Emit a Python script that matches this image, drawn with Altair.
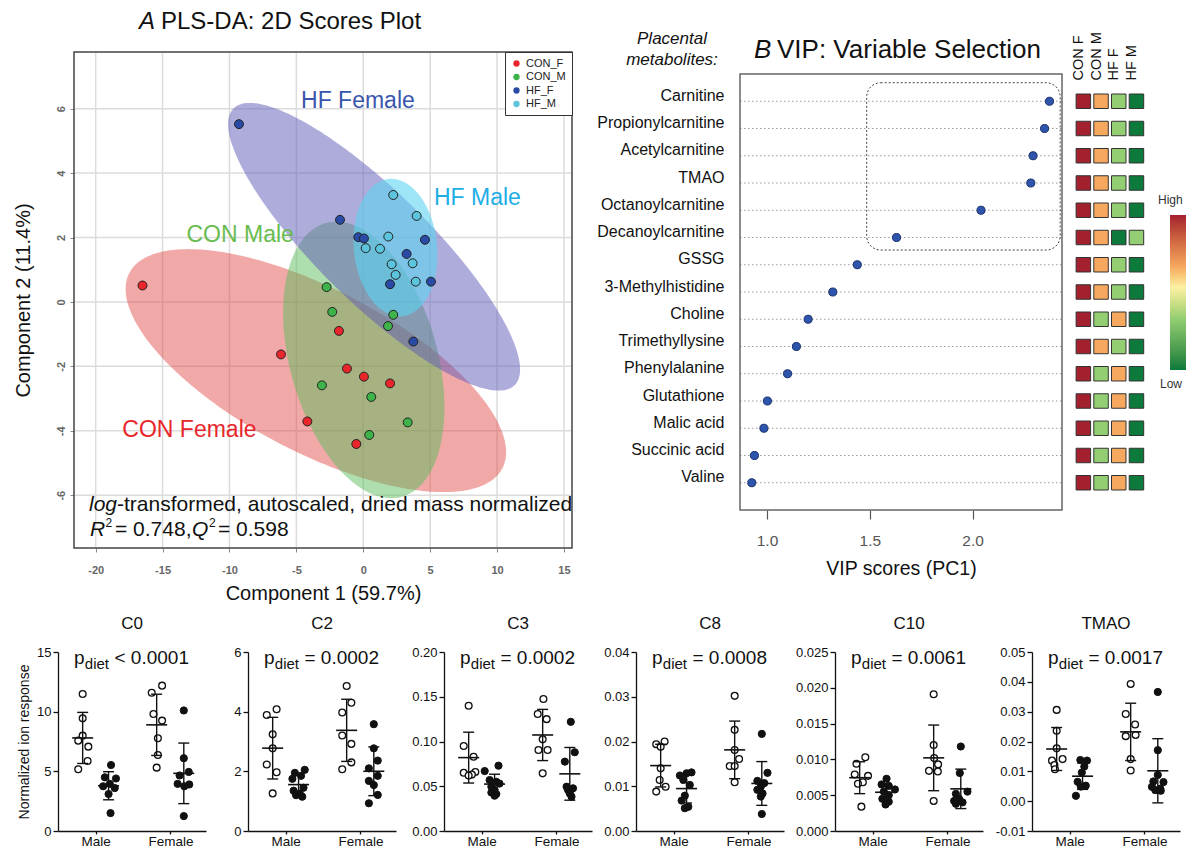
import altair as alt
import numpy as np
import pandas as pd

W, H = 1187, 853
FONT = "Liberation Sans"

# ============================ DATA ============================
# ---- Panel A: PLS-DA scores (Component 1 / Component 2) ----
group_names = ["CON_F", "CON_M", "HF_F", "HF_M"]
con_f_c1 = [-16.5, -1.82, -6.15, -1.22, 0.05, 2.0, -4.18, -0.52]
con_f_c2 = [0.51, -0.9, -1.63, -2.07, -2.32, -2.53, -3.71, -4.41]
con_m_c1 = [-2.74, -2.32, 2.24, 1.85, -3.09, 0.6, 3.32, 0.45]
con_m_c2 = [0.46, -0.31, -0.4, -0.75, -2.59, -2.95, -3.74, -4.13]
hf_f_c1 = [-9.29, -1.74, -0.37, 0.05, 4.61, 3.24, 2.0, 5.06, 3.74]
hf_f_c2 = [5.52, 2.55, 2.01, 1.97, 1.93, 1.49, 0.55, 0.63, -1.23]
hf_m_c1 = [2.24, 3.99, 1.87, 0.18, 1.25, 2.12, 3.69, 2.42, 3.92]
hf_m_c2 = [3.32, 2.67, 2.03, 1.67, 1.65, 1.17, 1.2, 0.84, 0.63]
a_xticks = [-20, -15, -10, -5, 0, 5, 10, 15]
a_yticks = [-6, -4, -2, 0, 2, 4, 6]
group_label_text = ["CON Female", "CON Male", "HF Female", "HF Male"]

# ---- Panel B: VIP scores + group heat map ----
metabolites = ["Carnitine", "Propionylcarnitine", "Acetylcarnitine", "TMAO",
               "Octanoylcarnitine", "Decanoylcarnitine", "GSSG", "3-Methylhistidine",
               "Choline", "Trimethyllysine", "Phenylalanine", "Glutathione",
               "Malic acid", "Succinic acid", "Valine"]
vip_scores = [2.374, 2.35, 2.294, 2.283, 2.041, 1.63, 1.439, 1.32,
              1.2, 1.143, 1.1, 1.002, 0.985, 0.939, 0.926]
vip_ticks = [1.0, 1.5, 2.0]
heat_columns = ["CON F", "CON M", "HF F", "HF M"]
heat_con_f = [4, 4, 4, 4, 4, 4, 4, 4, 4, 4, 4, 4, 4, 4, 4]
heat_con_m = [3, 3, 3, 3, 3, 3, 3, 3, 2, 3, 2, 2, 2, 2, 2]
heat_hf_f = [2, 2, 2, 2, 2, 1, 2, 2, 3, 2, 3, 3, 3, 3, 3]
heat_hf_m = [1, 1, 1, 1, 1, 2, 1, 1, 1, 1, 1, 1, 1, 1, 1]

# ---- Bottom panels: normalized ion response ----
panel_titles = ["C0", "C2", "C3", "C8", "C10", "TMAO"]
panel_p = ["< 0.0001", "= 0.0002", "= 0.0002", "= 0.0008", "= 0.0061", "= 0.0017"]
sex_labels = ["Male", "Female"]

c0_m_con = [11.48, 9.44, 7.99, 7.57, 7.07, 5.87, 5.17]
c0_m_hf = [5.53, 4.5, 4.4, 3.95, 3.75, 3.6, 3.1, 1.5]
c0_f_con = [12.18, 11.59, 9.8, 9.25, 7.77, 6.37, 5.31]
c0_f_hf = [10.1, 6.1, 4.95, 4.65, 3.95, 3.9, 3.75, 1.25]

c2_m_con = [4.08, 3.89, 3.24, 2.77, 2.23, 1.97, 1.26]
c2_m_hf = [2.05, 1.95, 1.85, 1.75, 1.45, 1.35, 1.25, 1.2, 1.15]
c2_f_con = [4.86, 4.3, 3.97, 3.2, 2.92, 2.3, 2.07]
c2_f_hf = [3.58, 2.77, 2.36, 2.1, 1.85, 1.68, 1.54, 1.21, 0.93]

c3_m_con = [0.140, 0.095, 0.083, 0.066, 0.065, 0.063, 0.062]
c3_m_hf = [0.073, 0.067, 0.057, 0.055, 0.053, 0.0495, 0.046, 0.043, 0.0413, 0.0395]
c3_f_con = [0.1475, 0.1307, 0.125, 0.1024, 0.0905, 0.0905, 0.0644]
c3_f_hf = [0.122, 0.088, 0.0775, 0.0495, 0.0477, 0.0458, 0.042, 0.0384]

c8_m_con = [0.020, 0.0194, 0.0188, 0.014, 0.0114, 0.0099, 0.0088]
c8_m_hf = [0.0131, 0.0129, 0.0124, 0.0114, 0.0103, 0.0079, 0.0068, 0.0054, 0.0051]
c8_f_con = [0.0302, 0.0226, 0.0181, 0.0161, 0.0145, 0.0145, 0.0109]
c8_f_hf = [0.0217, 0.013, 0.0112, 0.0107, 0.0099, 0.0092, 0.0084, 0.0077, 0.0038]

c10_m_con = [0.0103, 0.0094, 0.0079, 0.0077, 0.0068, 0.0066, 0.0034]
c10_m_hf = [0.0073, 0.0065, 0.0063, 0.0058, 0.0055, 0.005, 0.0045, 0.0041, 0.0037]
c10_f_con = [0.0191, 0.012, 0.0102, 0.0093, 0.0084, 0.0083, 0.0042]
c10_f_hf = [0.0118, 0.0081, 0.0055, 0.0052, 0.0045, 0.0042, 0.004, 0.0038]

tmao_m_con = [0.0306, 0.0236, 0.0177, 0.0141, 0.0136, 0.0121, 0.0107]
tmao_m_hf = [0.0138, 0.0136, 0.0116, 0.0096, 0.0065, 0.0052, 0.0049, 0.0018]
tmao_f_con = [0.0393, 0.0292, 0.0257, 0.0222, 0.0218, 0.0141, 0.0103]
tmao_f_hf = [0.0366, 0.0171, 0.0088, 0.0066, 0.0064, 0.0048, 0.0042, 0.0037, 0.0035]

# horizontal scatter (beeswarm) offsets, in x units
c0_dx = [[0, 0, 0, -0.18, 0.23, 0.2, -0.18],
         [0.1, -0.15, 0.3, 0.05, -0.22, 0.25, 0, 0.08],
         [0.22, -0.2, -0.13, 0.22, 0.05, 0.05, 0],
         [0, 0, 0.2, -0.17, -0.25, 0.22, 0.02, 0]]
c2_dx = [[0.16, -0.24, 0, 0, -0.24, 0.16, 0],
         [0.25, -0.15, 0.1, -0.25, 0.2, -0.2, 0.05, -0.1, 0.15],
         [0, 0.19, -0.18, -0.18, 0.19, 0.19, -0.18],
         [0, 0, 0.16, -0.2, 0.16, -0.2, 0, 0.16, -0.2]]
c3_dx = [[0, -0.2, 0.2, 0.27, -0.2, 0.13, 0],
         [0.16, -0.4, -0.2, 0.07, 0.2, -0.13, 0, -0.13, 0.07, 0],
         [0.03, -0.2, 0.16, 0, -0.17, 0.2, 0],
         [0.04, 0.2, -0.2, -0.13, 0.13, -0.07, 0, 0.07]]
c8_dx = [[0.16, -0.18, 0, 0, -0.04, 0.2, -0.18],
         [0.2, 0, -0.27, -0.13, 0.13, -0.07, -0.2, 0.07, -0.07],
         [0, 0, 0, 0.18, -0.2, 0, 0],
         [0, 0.23, -0.18, 0.1, -0.04, -0.18, 0.03, -0.04, 0]]
c10_dx = [[0.23, -0.13, -0.2, 0.34, 0.13, -0.07, 0.07],
          [0.04, -0.16, 0.13, 0.38, -0.07, 0.13, -0.13, 0.13, 0],
          [0, 0, 0.02, 0.18, -0.19, 0.17, 0],
          [0, -0.04, 0.27, -0.2, -0.07, -0.27, 0.07, -0.2]]
tmao_dx = [[0, 0, 0, 0.24, -0.19, -0.09, -0.07],
           [-0.09, 0.18, 0.07, -0.03, -0.2, 0.13, -0.07, -0.27],
           [0, -0.2, 0.18, 0.2, -0.2, 0, 0],
           [0, 0, 0, -0.18, 0.23, -0.24, 0.1, -0.1, 0.12]]

panel_values = [
    [c0_m_con, c0_m_hf, c0_f_con, c0_f_hf],
    [c2_m_con, c2_m_hf, c2_f_con, c2_f_hf],
    [c3_m_con, c3_m_hf, c3_f_con, c3_f_hf],
    [c8_m_con, c8_m_hf, c8_f_con, c8_f_hf],
    [c10_m_con, c10_m_hf, c10_f_con, c10_f_hf],
    [tmao_m_con, tmao_m_hf, tmao_f_con, tmao_f_hf],
]
panel_dx = [c0_dx, c2_dx, c3_dx, c8_dx, c10_dx, tmao_dx]
panel_ydomain = [[0, 15], [0, 6], [0, 0.2], [0, 0.04], [0, 0.025], [-0.01, 0.05]]
panel_yticks = [[0, 5, 10, 15], [0, 2, 4, 6], [0, 0.05, 0.1, 0.15, 0.2],
                [0, 0.01, 0.02, 0.03, 0.04], [0, 0.005, 0.01, 0.015, 0.02, 0.025],
                [-0.01, 0, 0.01, 0.02, 0.03, 0.04, 0.05]]
panel_yfmt = ["d", "d", ".2f", ".2f", ".3f", ".2f"]

# ============================ STYLE / LAYOUT ============================
point_colors = ["#E8262B", "#3DB34A", "#2A4BA5", "#5CC5DD"]
ellipse_colors = ["#E0403F", "#5DBB5D", "#5E5AB5", "#5CD4F2"]
ellipse_opacity = [0.45, 0.5, 0.5, 0.6]
label_colors = ["#E8262B", "#69BC4F", "#3A55AE", "#1DAEE6"]
label_pos_x = [-12.99, -9.2, -0.4, 8.53]
label_pos_y = [-3.98, 2.08, 6.25, 3.24]
heat_colors = ["#0B7A3B", "#93CF72", "#FCF0A4", "#F6A85F", "#A3202F"]

A_XD, A_YD = [-21.62, 15.6], [-7.64, 7.76]
A_XR, A_YR = [74, 572], [548, 52]
B_XD, B_YD = [0.8687, 2.4348], [0, 16]
B_XR, B_YR = [740, 1062], [74, 510]
HM_XD, HM_XR = [0.5, 4.5], [1074.5, 1145.3]
PANEL_AX = [58, 248, 444, 636, 835, 1032]
PANEL_W = 148
P_TOP, P_BOT = 652, 831
GROUP_POS = [1.0, 2.05, 4.0, 5.1]
GROUP_DIET = ["CON", "HF", "CON", "HF"]
SEX_TICKS = [1.53, 4.56]
MINUS = "replace(datum.label, '\u2212', '-')"


def qx(field, dom, rng, axis=None):
    return alt.X(field, type="quantitative",
                 scale=alt.Scale(domain=dom, range=rng, nice=False, zero=False), axis=axis)


def qy(field, dom, rng, axis=None):
    return alt.Y(field, type="quantitative",
                 scale=alt.Scale(domain=dom, range=rng, nice=False, zero=False), axis=axis)


def txt(s, x, y, size, align="left", baseline="middle", style="normal", color="#111", angle=0):
    return alt.Chart(pd.DataFrame({"t": [s]})).mark_text(
        align=align, baseline=baseline, fontSize=size, fontStyle=style, color=color, angle=angle
    ).encode(x=alt.value(x), y=alt.value(y), text="t:N")


layers = []

# ============================ PANEL A ============================
def axA(f, axis=None):
    return qx(f, A_XD, A_XR, axis)


def ayA(f, axis=None):
    return qy(f, A_YD, A_YR, axis)


axis_a_x = alt.Axis(orient="bottom", offset=A_YR[0] - H, values=a_xticks, grid=False, domain=False,
                    tickSize=4, tickColor="#888", labelColor="#666", labelFontSize=11,
                    labelFontWeight="bold", labelPadding=12, labelFlush=False, labelExpr=MINUS,
                    title="Component 1 (59.7%)", titleFontSize=20, titleFontWeight="normal",
                    titleColor="#111", titlePadding=8)
axis_a_y = alt.Axis(orient="left", offset=-A_XR[0], values=a_yticks, grid=False, domain=False,
                    tickSize=4, tickColor="#888", labelColor="#666", labelFontSize=11,
                    labelFontWeight="bold", labelAngle=270, labelAlign="center", labelBaseline="bottom",
                    labelPadding=4, labelExpr=MINUS, title="Component 2 (11.4%)", titleFontSize=20,
                    titleFontWeight="normal", titleColor="#111", titlePadding=22)

layers.append(alt.Chart(pd.DataFrame({"x": a_xticks, "y0": A_YD[0], "y1": A_YD[1]}))
              .mark_rule(color="#DCDCDC", strokeWidth=1.5)
              .encode(x=axA("x"), y=ayA("y0"), y2=alt.Y2("y1")))
layers.append(alt.Chart(pd.DataFrame({"y": a_yticks, "x0": A_XD[0], "x1": A_XD[1]}))
              .mark_rule(color="#DCDCDC", strokeWidth=1.5)
              .encode(y=ayA("y"), x=axA("x0"), x2=alt.X2("x1")))

score_c1 = [con_f_c1, con_m_c1, hf_f_c1, hf_m_c1]
score_c2 = [con_f_c2, con_m_c2, hf_f_c2, hf_m_c2]
K95 = np.sqrt(5.991)  # 95% confidence region, chi-square with 2 d.f.
t = np.linspace(0, np.pi, 181)
for xs, ys, col, op in zip(score_c1, score_c2, ellipse_colors, ellipse_opacity):
    xs, ys = np.array(xs), np.array(ys)
    mx, my = xs.mean(), ys.mean()
    sx, sy = xs.std(ddof=1), ys.std(ddof=1)
    phi = np.arccos(np.corrcoef(xs, ys)[0, 1])
    edf = pd.DataFrame({"x": mx + K95 * sx * np.cos(t),
                        "ya": my + K95 * sy * np.cos(t - phi),
                        "yb": my + K95 * sy * np.cos(t + phi)})
    layers.append(alt.Chart(edf).mark_area(color=col, opacity=op)
                  .encode(x=axA("x"), y=ayA("ya"), y2=alt.Y2("yb")))

pts = pd.DataFrame({
    "x": sum(score_c1, []),
    "y": sum(score_c2, []),
    "g": sum([[g] * len(v) for g, v in zip(group_names, score_c1)], []),
})
legend_a = alt.Legend(orient="none", legendX=505, legendY=52, title=None, labelFontSize=11,
                      labelColor="#222", symbolType="circle", symbolSize=40, symbolStrokeWidth=0,
                      symbolOpacity=1, padding=6, rowPadding=1.5, strokeColor="#333", fillColor="white",
                      labelOffset=4)
layers.append(alt.Chart(pts).mark_circle(size=80, stroke="#222", strokeWidth=1, opacity=1)
              .encode(x=axA("x", axis_a_x), y=ayA("y", axis_a_y),
                      fill=alt.Fill("g:N", scale=alt.Scale(domain=group_names, range=point_colors),
                                    legend=legend_a)))
layers.append(alt.Chart(pd.DataFrame({"x0": [A_XD[0]], "x1": [A_XD[1]],
                                      "y0": [A_YD[0]], "y1": [A_YD[1]]}))
              .mark_rect(fillOpacity=0, stroke="#444", strokeWidth=1.5)
              .encode(x=axA("x0"), x2=alt.X2("x1"), y=ayA("y0"), y2=alt.Y2("y1")))
layers.append(alt.Chart(pd.DataFrame({"x": label_pos_x, "y": label_pos_y, "t": group_label_text,
                                      "c": label_colors}))
              .mark_text(fontSize=23, align="center", baseline="middle")
              .encode(x=axA("x"), y=ayA("y"), text="t:N", color=alt.Color("c:N", scale=None)))

layers += [
    txt("A", 139, 22, 24, style="italic"),
    txt("PLS-DA: 2D Scores Plot", 161, 22, 24),
    txt("log", 89, 505, 21, style="italic"),
    txt("-transformed, autoscaled, dried mass normalized", 117, 505, 21),
    txt("R", 90, 530, 21, style="italic"),
    txt("2", 105.5, 523, 12),
    txt("= 0.748,", 115, 530, 21),
    txt("Q", 192, 530, 21, style="italic"),
    txt("2", 209, 523, 12),
    txt("= 0.598", 218, 530, 21),
]

# ============================ PANEL B ============================
def axB(f, axis=None):
    return qx(f, B_XD, B_XR, axis)


def ayB(f, axis=None):
    return qy(f, B_YD, B_YR, axis)


rows = list(range(1, len(metabolites) + 1))
name_expr = "[" + ",".join("'" + m + "'" for m in metabolites) + "][datum.value - 1]"
axis_b_x = alt.Axis(orient="bottom", offset=B_YR[1] - H, values=vip_ticks, format=".1f", grid=False,
                    domain=False, tickSize=9, tickColor="#555", tickWidth=1.2, labelColor="#555",
                    labelFontSize=15.5, labelPadding=14, labelFlush=False, title="VIP scores (PC1)",
                    titleFontSize=19.5, titleFontWeight="normal", titleColor="#111", titlePadding=11)
axis_b_y = alt.Axis(orient="left", offset=-B_XR[0], values=rows, grid=False, domain=False, ticks=False,
                    labelExpr=name_expr, labelFontSize=16, labelColor="#111", labelPadding=16,
                    labelOffset=-6, labelOverlap=False, labelFlush=False, title=None)

vip_df = pd.DataFrame({"row": rows, "vip": vip_scores, "x0": B_XD[0], "x1": B_XD[1]})
layers += [
    alt.Chart(vip_df).mark_rule(color="#9A9A9A", strokeDash=[1.5, 2.5], strokeWidth=1)
    .encode(y=ayB("row"), x=axB("x0"), x2=alt.X2("x1")),
    alt.Chart(pd.DataFrame({"x0": [1.485], "x1": [2.426], "y0": [0.32], "y1": [6.46]}))
    .mark_rect(cornerRadius=14, fillOpacity=0, stroke="#444", strokeDash=[2, 2], strokeWidth=1)
    .encode(x=axB("x0"), x2=alt.X2("x1"), y=ayB("y0"), y2=alt.Y2("y1")),
    alt.Chart(vip_df).mark_circle(size=65, color="#2E55AB", stroke="#17306B", strokeWidth=1, opacity=1)
    .encode(x=axB("vip", axis_b_x), y=ayB("row", axis_b_y)),
    alt.Chart(pd.DataFrame({"x0": [B_XD[0]], "x1": [B_XD[1]], "y0": [B_YD[0]], "y1": [B_YD[1]]}))
    .mark_rect(fillOpacity=0, stroke="#666", strokeWidth=1.5)
    .encode(x=axB("x0"), x2=alt.X2("x1"), y=ayB("y0"), y2=alt.Y2("y1")),
]

# heat map
heat_levels = [heat_con_f, heat_con_m, heat_hf_f, heat_hf_m]
heat_df = pd.DataFrame([{"row": r, "col": ci + 1, "level": heat_levels[ci][r - 1]}
                        for r in rows for ci in range(4)])
col_expr = "[" + ",".join("'" + c + "'" for c in heat_columns) + "][datum.value - 1]"
axis_h_x = alt.Axis(orient="top", offset=-82, values=[1, 2, 3, 4], labelExpr=col_expr, labelAngle=270,
                    labelAlign="left", labelBaseline="middle", labelFontSize=14.5, labelPadding=2,
                    labelOffset=-5, labelColor="#111", ticks=False, domain=False, grid=False,
                    labelFlush=False, labelOverlap=False, title=None)
legend_h = alt.Legend(orient="none", legendX=1170, legendY=215, direction="vertical",
                      gradientLength=155, gradientThickness=16, gradientStrokeWidth=0,
                      title=None, labelExpr="''")
layers.append(
    alt.Chart(heat_df).mark_square(size=210, stroke="#333", strokeWidth=1, opacity=1)
    .encode(x=qx("col", HM_XD, HM_XR, axis_h_x), y=qy("row", B_YD, B_YR),
            fill=alt.Fill("level:Q", scale=alt.Scale(domain=[1, 2, 2.6, 3, 4], range=heat_colors),
                          legend=legend_h))
)

layers += [
    txt("Placental", 672, 39, 17, align="center", style="italic"),
    txt("metabolites:", 672, 60, 17, align="center", style="italic"),
    txt("B", 754, 50, 26, style="italic"),
    txt("VIP: Variable Selection", 777, 50, 26),
    txt("High", 1158, 200, 12, color="#333"),
    txt("Low", 1160, 384, 12, color="#333"),
]

# ============================ BOTTOM PANELS ============================
for i in range(6):
    ax0 = PANEL_AX[i]
    XR = [ax0, ax0 + PANEL_W]
    YR = [P_BOT, P_TOP]
    dom = panel_ydomain[i]
    recs = []
    for gi in range(4):
        for v, d in zip(panel_values[i][gi], panel_dx[i][gi]):
            recs.append({"c": GROUP_POS[gi], "x": GROUP_POS[gi] + d, "v": v, "diet": GROUP_DIET[gi]})
    df = pd.DataFrame(recs)

    xax = alt.Axis(orient="bottom", offset=P_BOT - H, values=SEX_TICKS,
                   labelExpr="datum.value < 3 ? 'Male' : 'Female'", grid=False,
                   domainColor="#111", domainWidth=1.3, tickColor="#111", tickWidth=1.3, tickSize=3,
                   labelFontSize=13.5, labelColor="#111", labelPadding=0, labelFlush=False, title=None)
    yax_kw = dict(orient="left", offset=-ax0, values=panel_yticks[i], format=panel_yfmt[i], grid=False,
                  domainColor="#111", domainWidth=1.3, tickColor="#111", tickWidth=1.3, tickSize=5,
                  labelFontSize=13, labelColor="#111", labelPadding=2, labelFlush=False,
                  labelOverlap=False, labelExpr=MINUS)
    if i == 0:
        yax = alt.Axis(title="Normalized ion response", titleFontSize=14, titleFontWeight="normal",
                       titleColor="#111", titlePadding=5, **yax_kw)
    else:
        yax = alt.Axis(title=None, **yax_kw)

    base = alt.Chart(df)
    stats = base.transform_aggregate(m="mean(v)", s="stdev(v)", groupby=["c"]).transform_calculate(
        lo="datum.m - datum.s", hi="datum.m + datum.s")
    layers += [
        base.transform_filter("datum.diet == 'CON'")
        .mark_circle(size=46, fill="white", stroke="#111", strokeWidth=1.3, opacity=1)
        .encode(x=qx("x", [0, 6], XR, xax), y=qy("v", dom, YR, yax)),
        base.transform_filter("datum.diet == 'HF'")
        .mark_circle(size=52, fill="#111", stroke="#111", strokeWidth=1, opacity=1)
        .encode(x=qx("x", [0, 6], XR), y=qy("v", dom, YR)),
        stats.mark_rule(color="#111", strokeWidth=1.4)
        .encode(x=qx("c", [0, 6], XR), y=qy("lo", dom, YR), y2=alt.Y2("hi")),
        stats.mark_tick(orient="horizontal", size=11, thickness=1.4, color="#111", opacity=1)
        .encode(x=qx("c", [0, 6], XR), y=qy("lo", dom, YR)),
        stats.mark_tick(orient="horizontal", size=11, thickness=1.4, color="#111", opacity=1)
        .encode(x=qx("c", [0, 6], XR), y=qy("hi", dom, YR)),
        stats.mark_tick(orient="horizontal", size=21, thickness=1.6, color="#111", opacity=1)
        .encode(x=qx("c", [0, 6], XR), y=qy("m", dom, YR)),
        txt(panel_titles[i], ax0 + 74, 624, 17, align="center"),
        txt("p", ax0 + 16, 664, 19, baseline="alphabetic"),
        txt("diet", ax0 + 26.8, 669, 15, baseline="alphabetic"),
        txt(panel_p[i], ax0 + 56.5, 664, 19, baseline="alphabetic"),
    ]

chart = (
    alt.layer(*layers)
    .resolve_scale(x="independent", y="independent", fill="independent")
    .properties(width=W, height=H, padding=0, autosize=alt.AutoSizeParams(type="none"))
    .configure(font=FONT)
    .configure_view(strokeWidth=0)
)
chart.save("out.html", embed_options={"renderer": "svg", "actions": False})
